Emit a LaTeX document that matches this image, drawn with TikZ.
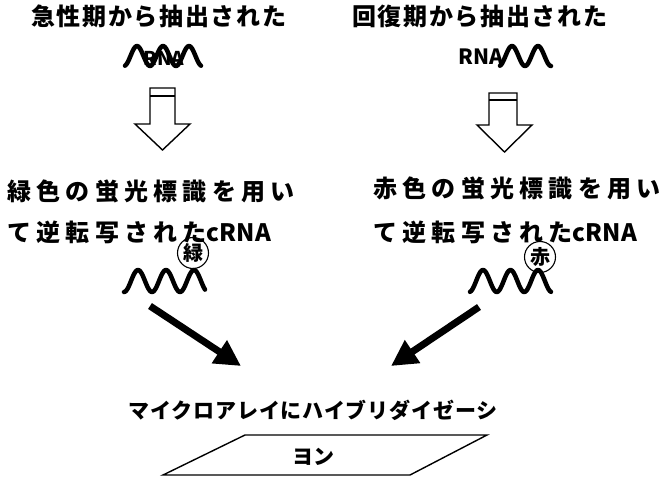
\documentclass[tikz,border=0pt]{standalone}
\usepackage{fontspec}
\usetikzlibrary{arrows.meta}
\IfFontExistsTF{Noto Sans CJK JP Black}
  {\newfontfamily\jp{Noto Sans CJK JP Black}}
  {\IfFontExistsTF{Noto Sans CJK JP Bold}
    {\newfontfamily\jp{Noto Sans CJK JP Bold}}
    {\newfontfamily\jp[FakeBold=3]{Noto Sans CJK JP}}}
\begin{document}
\begin{tikzpicture}[x=1pt,y=-1pt,
  txt/.style={inner sep=0pt,anchor=west,font=\jp},
  wave/.style={line width=4.5pt,line cap=round,line join=round},
  blockarrow/.style={draw,line width=1.4pt,fill=white,line join=miter},
  bigarrow/.style={line width=7pt,-{Triangle[length=26pt,width=26pt]}}]
\useasboundingbox (0,0) rectangle (671,480);
% titles
\node[txt,font=\jp\fontsize{24}{26}\selectfont\addfontfeature{LetterSpace=7}] (t1) at (31,16) {急性期から抽出された};
\node[txt,font=\jp\fontsize{24}{26}\selectfont\addfontfeature{LetterSpace=7}] (t2) at (352,16) {回復期から抽出された};
% top RNA waves
\draw[wave] plot[domain=125:201,samples=60] (\x,{56-10*cos((\x-137)/26*360)});
\node[inner sep=0pt,font=\jp\fontsize{19}{20}\selectfont] (r1) at (164,58) {RNA};
\node[inner sep=0pt,anchor=west,font=\jp\fontsize{21}{22}\selectfont] (r2) at (458,57) {RNA};
\draw[wave] plot[domain=500:551,samples=50] (\x,{56-10*cos((\x-512)/26*360)});
% block arrows
\draw[blockarrow] (150,88) -- (175,88) -- (175,124) -- (190,124) -- (162.5,150) -- (135,124) -- (150,124) -- cycle;
\draw[line width=1.4pt] (150,96) -- (175,96);
\draw[blockarrow] (489,93) -- (517,93) -- (517,125) -- (532,125) -- (504.5,152) -- (477,125) -- (489,125) -- cycle;
\draw[line width=1.4pt] (489,100) -- (517,100);
% label lines
\node[txt,font=\jp\fontsize{24}{26}\selectfont\addfontfeature{LetterSpace=22}] (g1) at (7,191) {緑色の蛍光標識を用い};
\node[txt,font=\jp\fontsize{24}{26}\selectfont] (g2) at (7,232) {{\addfontfeature{LetterSpace=22}て逆転写された}cRNA};
\node[txt,font=\jp\fontsize{24}{26}\selectfont\addfontfeature{LetterSpace=22}] (h1) at (373,188) {赤色の蛍光標識を用い};
\node[txt,font=\jp\fontsize{24}{26}\selectfont] (h2) at (373,232) {{\addfontfeature{LetterSpace=22}て逆転写された}cRNA};
% labelled cRNA waves
\draw[wave] plot[domain=124:205,samples=70] (\x,{281-11*cos((\x-138)/28*360)});
\node[draw,circle,line width=1.1pt,minimum size=31pt,inner sep=0pt,font=\jp\fontsize{20}{20}\selectfont] (cg) at (193,253) {緑};
\draw[wave] plot[domain=470:551,samples=70] (\x,{281-11*cos((\x-483)/27.5*360)});
\node[draw,circle,line width=1.1pt,minimum size=31pt,inner sep=0pt,font=\jp\fontsize{20}{20}\selectfont] (cr) at (540,257) {赤};
% big arrows
\coordinate (gs) at (150,306);
\coordinate (gt) at (241,366);
\coordinate (rs) at (479,307);
\coordinate (rt) at (391,366);
\draw[bigarrow] (gs) -- (gt);
\draw[bigarrow] (rs) -- (rt);
% microarray
\node[font=\jp\fontsize{21}{22}\selectfont\addfontfeature{LetterSpace=4},inner sep=0pt] (m1) at (313,410) {マイクロアレイにハイブリダイゼーシ};
\draw[line width=1.4pt,line join=miter] (245,435) -- (487,435) -- (410,475) -- (163,475) -- cycle;
\node[font=\jp\fontsize{21}{22}\selectfont,inner sep=0pt] (m2) at (313,457) {ヨン};
\end{tikzpicture}
\end{document}
